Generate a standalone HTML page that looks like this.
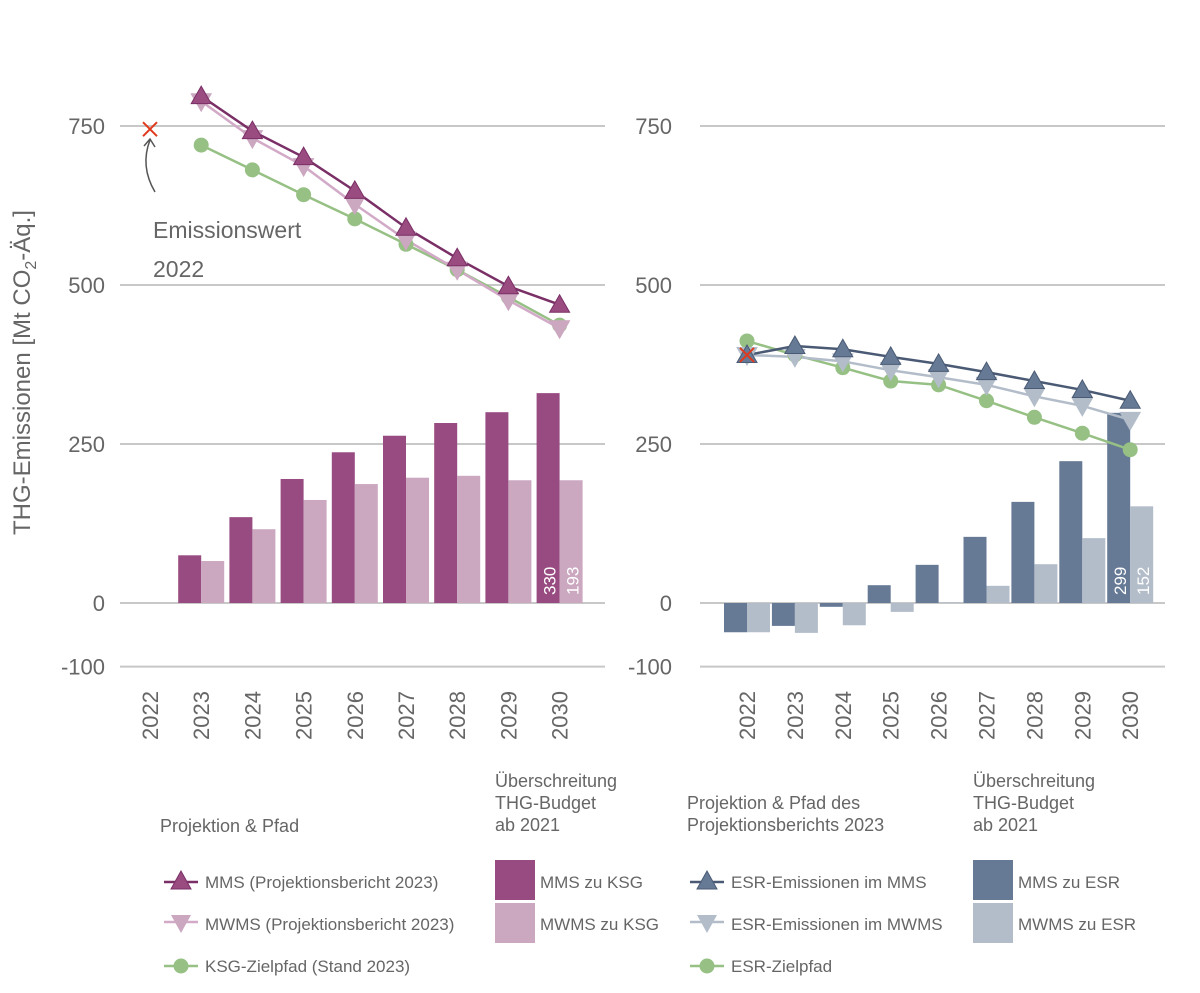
<!DOCTYPE html>
<html><head><meta charset="utf-8"><style>
body{margin:0;background:#fff;font-family:"Liberation Sans",sans-serif;}
svg text{font-family:"Liberation Sans",sans-serif;fill:#666;}
</style></head><body>
<svg id="c" width="1200" height="988" xmlns="http://www.w3.org/2000/svg"></svg>
<script>
const years=[2022,2023,2024,2025,2026,2027,2028,2029,2030];
const ticks=[750,500,250,0,-100];
const L_mms=[null,797,742,701,648,590,542,498,469];
const L_mwms=[null,789,731,687,627,571,524,476,432];
const L_ksg=[null,720,681,642,604,564,524,481,437];
const L_barMMS=[null,75,135,195,237,263,283,300,330];
const L_barMWMS=[null,66,116,162,187,197,200,193,193];
const L_cross=745;
const R_mms=[390,404,399,387,376,363,349,335,318];
const R_mwms=[390,387,380,366,355,343,325,310,288];
const R_esr=[412,390,370,349,343,318,292,267,241];
const R_barMMS=[-46,-36,-6,28,60,104,159,223,299];
const R_barMWMS=[-46,-47,-35,-14,1,27,61,102,152];
const R_cross=390;

const NS="http://www.w3.org/2000/svg",svg=document.getElementById('c');
function el(t,a,txt){const e=document.createElementNS(NS,t);for(const k in a)e.setAttribute(k,a[k]);if(txt!==undefined)e.textContent=txt;svg.appendChild(e);return e;}
const y=v=>603-v*0.636;
function tri(cx,cy,up,fill,stroke){const s=10;const p=up?`${cx},${cy-s} ${cx-s},${cy+s*0.75} ${cx+s},${cy+s*0.75}`:`${cx},${cy+s} ${cx-s},${cy-s*0.75} ${cx+s},${cy-s*0.75}`;return el('polygon',{points:p,fill:fill,stroke:stroke,'stroke-width':1});}
function panel(P){
 const x=i=>P.x0+i*P.dx;
 ticks.forEach(t=>{const g=el('line',{x1:P.g0,x2:P.g1,y1:y(t),y2:y(t),stroke:'#c8c8c8','stroke-width':2});
  const tx=el('text',{x:P.lx,y:y(t)+8,'text-anchor':'end','font-size':22},String(t));});
 years.forEach((yr,i)=>{const tx=el('text',{transform:`translate(${x(i)+8},740) rotate(-90)`,'font-size':22},String(yr));});
 const bw=23;
 P.b1.forEach((v,i)=>{if(v==null)return;const r=el('rect',{x:x(i)-bw,y:Math.min(y(v),y(0)),width:bw,height:Math.abs(y(v)-y(0)),fill:P.c1});});
 P.b2.forEach((v,i)=>{if(v==null)return;const r=el('rect',{x:x(i),y:Math.min(y(v),y(0)),width:bw,height:Math.abs(y(v)-y(0)),fill:P.c2});});
 const li=8;
 const t1=el('text',{transform:`translate(${x(li)-4},${y(0)-8}) rotate(-90)`,'font-size':17,style:'fill:#fff'},String(P.b1[li]));
 const t2=el('text',{transform:`translate(${x(li)+19},${y(0)-8}) rotate(-90)`,'font-size':17,style:'fill:#fff'},String(P.b2[li]));
 function series(d,col,name,mk){const pts=d.map((v,i)=>v==null?null:[x(i),y(v)]).filter(p=>p);const pl=el('polyline',{points:pts.map(p=>p.join(',')).join(' '),fill:'none',stroke:col,'stroke-width':2.5});return pts;}
 const pE=series(P.l3,P.cg,'target');
 const pW=series(P.l2,P.cl2,'mwms');
 const pM=series(P.l1,P.cl1,'mms');
 pE.forEach(p=>{const c=el('circle',{cx:p[0],cy:p[1],r:7.5,fill:'#96c084'});});
 pW.forEach(p=>{const t=tri(p[0],p[1],false,P.cl2f,P.cl2f);});
 pM.forEach(p=>{const t=tri(p[0],p[1],true,P.cm,P.cl1);});
 const cx=x(0),cy=y(P.cross);const g=el('path',{d:`M${cx-7},${cy-7}L${cx+7},${cy+7}M${cx+7},${cy-7}L${cx-7},${cy+7}`,stroke:'#e03a1e','stroke-width':2});
}
panel({x0:150,dx:51.2,g0:120,g1:605,lx:105,b1:L_barMMS,b2:L_barMWMS,l1:L_mms,l2:L_mwms,l3:L_ksg,c1:'#984b81',c2:'#cba7c0',cl1:'#7a2f66',cm:'#9a4b80',cl2:'#d2aac7',cl2f:'#cba7c0',cg:'#96c084',cross:L_cross});
panel({x0:747,dx:47.9,g0:700,g1:1165,lx:672,b1:R_barMMS,b2:R_barMWMS,l1:R_mms,l2:R_mwms,l3:R_esr,c1:'#667a95',c2:'#b3bdca',cl1:'#4a5a74',cm:'#667a95',cl2:'#b3bdca',cl2f:'#b3bdca',cg:'#96c084',cross:R_cross});
</script>
<svg width="1200" height="988" style="position:absolute;left:0;top:0" xmlns="http://www.w3.org/2000/svg">
<text transform="translate(30,535) rotate(-90)" font-size="24">THG-Emissionen [Mt CO<tspan font-size="16" dy="6">2</tspan><tspan dy="-6">-Äq.]</tspan></text>
<path d="M155,192 C145,175 143,158 150,140 M144,146 L150,139 L155,147" fill="none" stroke="#555" stroke-width="1.5"/>
<text x="153" y="238" font-size="23">Emissionswert</text>
<text x="153" y="277" font-size="23">2022</text>
<g font-size="18">
<text x="160" y="832">Projektion &amp; Pfad</text>
<text x="495" y="787">Überschreitung</text><text x="495" y="809">THG-Budget</text><text x="495" y="831">ab 2021</text>
<text x="687" y="809">Projektion &amp; Pfad des</text><text x="687" y="831">Projektionsberichts 2023</text>
<text x="973" y="787">Überschreitung</text><text x="973" y="809">THG-Budget</text><text x="973" y="831">ab 2021</text>
<g><line x1="164" y1="882" x2="198" y2="882" stroke="#7a2f66" stroke-width="2.5"/><polygon points="181,871 171,889 191,889" fill="#9a4b80" stroke="#7a2f66"/><text x="205" y="888" font-size="17">MMS (Projektionsbericht 2023)</text></g>
<g><line x1="164" y1="922" x2="198" y2="922" stroke="#d2aac7" stroke-width="2.5"/><polygon points="181,933 171,915 191,915" fill="#cba7c0"/><text x="205" y="930" font-size="17">MWMS (Projektionsbericht 2023)</text></g>
<g><line x1="164" y1="966" x2="198" y2="966" stroke="#96c084" stroke-width="2.5"/><circle cx="181" cy="966" r="7.5" fill="#96c084"/><text x="205" y="972" font-size="17">KSG-Zielpfad (Stand 2023)</text></g>
<rect x="495" y="860" width="40" height="40" fill="#984b81"/><text x="540" y="888" font-size="17">MMS zu KSG</text>
<rect x="495" y="903" width="40" height="40" fill="#cba7c0"/><text x="540" y="930" font-size="17">MWMS zu KSG</text>
<g><line x1="690" y1="882" x2="724" y2="882" stroke="#4a5a74" stroke-width="2.5"/><polygon points="707,871 697,889 717,889" fill="#667a95" stroke="#4a5a74"/><text x="731" y="888" font-size="17">ESR-Emissionen im MMS</text></g>
<g><line x1="690" y1="922" x2="724" y2="922" stroke="#b3bdca" stroke-width="2.5"/><polygon points="707,933 697,915 717,915" fill="#b3bdca"/><text x="731" y="930" font-size="17">ESR-Emissionen im MWMS</text></g>
<g><line x1="690" y1="966" x2="724" y2="966" stroke="#96c084" stroke-width="2.5"/><circle cx="707" cy="966" r="7.5" fill="#96c084"/><text x="731" y="972" font-size="17">ESR-Zielpfad</text></g>
<rect x="973" y="860" width="40" height="40" fill="#667a95"/><text x="1018" y="888" font-size="17">MMS zu ESR</text>
<rect x="973" y="903" width="40" height="40" fill="#b3bdca"/><text x="1018" y="930" font-size="17">MWMS zu ESR</text>
</g>
</svg>
</body></html>
